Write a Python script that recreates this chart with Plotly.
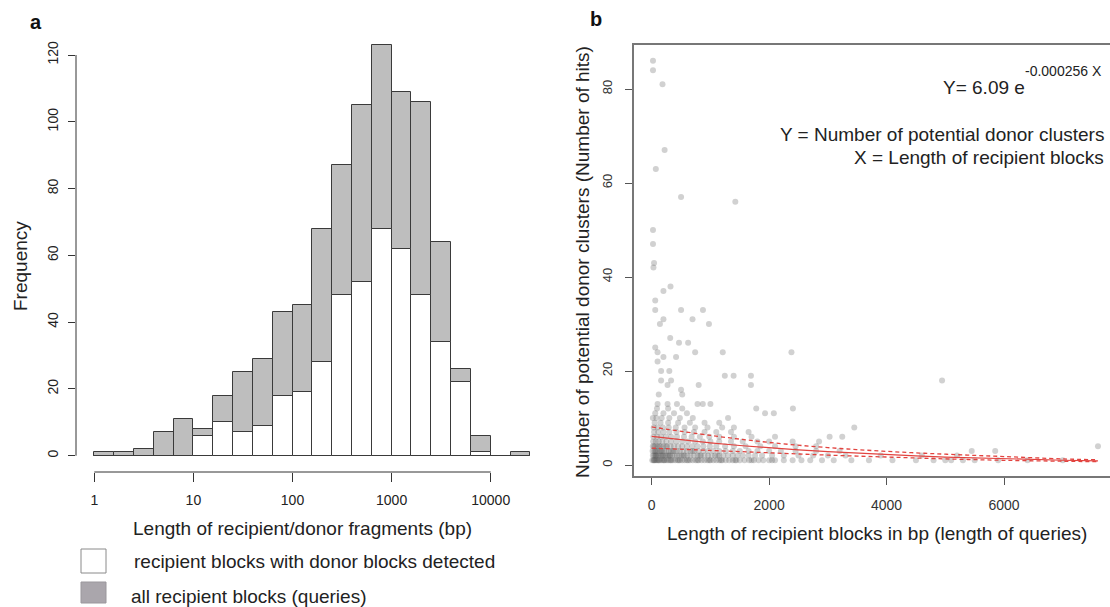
import math
import plotly.graph_objects as go

# ---------------- Panel a data (log10 bin edges, width 0.2) ----------------
bin_left_log = [0.0, 0.2, 0.4, 0.6, 0.8, 1.0, 1.2, 1.4, 1.6, 1.8, 2.0, 2.2,
                2.4, 2.6, 2.8, 3.0, 3.2, 3.4, 3.6, 3.8, 4.0, 4.2]
all_blocks = [1, 1, 2, 7, 11, 8, 18, 25, 29, 43, 45, 68,
              87, 105, 123, 109, 106, 64, 26, 6, 0, 1]
with_donor = [0, 0, 0, 0, 0, 6, 10, 7, 9, 18, 19, 28,
              48, 52, 68, 62, 48, 34, 22, 1, 0, 0]
bin_width_log = 0.2
a_xtick_vals = [0, 1, 2, 3, 4]
a_xtick_text = ["1", "10", "100", "1000", "10000"]
a_ytick_vals = [0, 20, 40, 60, 80, 100, 120]

# ---------------- Panel b data (length bp, number of hits) ----------------
row1_x = [10, 30, 50, 70, 90, 110, 140, 170, 200, 230, 260, 290, 320, 360, 400, 440,
          480, 520, 560, 600, 650, 700, 750, 800, 850, 900, 950, 1000, 1050, 1100,
          1150, 1200, 1260, 1320, 1380, 1440, 1500, 1580, 1660, 1740, 1820, 1900,
          2000, 2100, 2250, 2400, 2550, 2700, 2900, 3100, 3400, 3700, 4100, 4500,
          4800, 5000, 5100, 5300, 5500, 5900, 6400, 7000,
          40, 120, 210, 330, 460, 620, 780, 980, 1180, 1420, 1700, 2050]
row2_x = [20, 40, 60, 80, 100, 130, 160, 190, 220, 250, 280, 310, 350, 390, 430, 470,
          510, 560, 610, 660, 720, 780, 840, 900, 960, 1020, 1080, 1150, 1220, 1300,
          1380, 1460, 1550, 1650, 1760, 1880, 2050, 2250, 2500, 2750, 3000, 3300,
          3900, 4600, 5200, 70, 180, 300, 540, 820, 1120]
row3_x = [15, 45, 75, 105, 140, 175, 210, 250, 290, 330, 380, 430, 480, 540, 600, 660,
          730, 800, 880, 960, 1050, 1150, 1260, 1380, 1500, 1650, 1800, 2000, 2200,
          2450, 2800, 3200, 5450, 5850, 60, 160, 360, 700]
row4_x = [20, 60, 100, 150, 200, 260, 320, 380, 450, 520, 600, 690, 780, 880, 990,
          1100, 1250, 1400, 1600, 1850, 2100, 2450, 2800, 7600, 40, 130, 240]
row5_x = [25, 70, 120, 180, 250, 330, 420, 520, 620, 740, 870, 1000, 1150, 1350,
          1550, 1800, 2000, 2400, 2850]
row6_x = [30, 90, 160, 240, 330, 430, 550, 680, 820, 980, 1150, 1400, 1700, 2100,
          3030, 3245]
row7_x = [40, 110, 200, 300, 420, 560, 720, 900, 1100, 1350, 1650]
row8_x = [35, 100, 190, 290, 410, 560, 740, 950, 1200, 1400, 3450]
row9_x = [50, 150, 280, 450, 650, 900, 1150]
row10_x = [20, 80, 170, 300, 480, 700, 1300]
row11_x = [60, 200, 380, 600, 1930, 2080]
row12_x = [90, 280, 520, 1780, 2405]
row13_x = [100, 270, 430, 780, 870, 1000]
sparse_x = [22, 22, 184, 220, 70, 500, 1424, 22, 22, 40, 30, 200, 320, 60, 60, 500,
            695, 873, 975, 140, 200, 315, 465, 620, 60, 100, 100, 200, 415, 740, 1210,
            2380, 160, 160, 270, 330, 800, 500, 520, 1245, 1395, 1690, 1690, 4945,
            300, 120]
sparse_y = [86, 84, 81, 67, 63, 57, 56, 50, 47, 43, 42, 37, 38, 35, 33, 33,
            31, 33, 30, 30, 31, 27, 26, 26, 25, 24, 22, 23, 23, 24, 24,
            24, 20, 18, 17, 18, 17, 16, 15, 19, 19, 19, 17, 18,
            20, 15]

# fitted model shown on the chart: Y = 6.09 e^(-0.000256 X)
fit_a = 6.09
fit_b = -0.000256
fit_x = [0, 500, 1000, 1500, 2000, 2500, 3000, 3500, 4000, 4500, 5000, 5500,
         6000, 6500, 7000, 7600]
band_x = [0, 1000, 2000, 3000, 4000, 5000, 6000, 7000, 7600]
band_upper = [8.1, 6.3, 4.8, 3.7, 2.9, 2.3, 1.8, 1.3, 1.1]
band_lower = [3.6, 3.1, 2.6, 2.1, 1.7, 1.3, 1.0, 0.8, 0.7]
b_xtick_vals = [0, 2000, 4000, 6000]
b_ytick_vals = [0, 20, 40, 60, 80]

# ---------------- Figure ----------------
W, H = 1110, 607
FONT = "Liberation Sans, Arial, Helvetica, sans-serif"
BIG = 19


def px(x):
    return x / W


def py(y):
    return 1 - y / H


fig = go.Figure()

centers = [l + bin_width_log / 2 for l in bin_left_log]
fig.add_trace(go.Bar(x=centers, y=all_blocks, width=bin_width_log, base=0,
                     marker=dict(color="#bebebe", line=dict(color="#3a3a3a", width=1)),
                     xaxis="x", yaxis="y", showlegend=False, hoverinfo="skip"))
fig.add_trace(go.Bar(x=centers, y=with_donor, width=bin_width_log, base=0,
                     marker=dict(color="#ffffff", line=dict(color="#3a3a3a", width=1)),
                     xaxis="x", yaxis="y", showlegend=False, hoverinfo="skip"))

rows = [row1_x, row2_x, row3_x, row4_x, row5_x, row6_x, row7_x, row8_x, row9_x,
        row10_x, row11_x, row12_x, row13_x]
sx, sy = [], []
for i, r in enumerate(rows):
    sx += r
    sy += [i + 1] * len(r)
sx += sparse_x
sy += sparse_y
fig.add_trace(go.Scatter(x=sx, y=sy, mode="markers",
                         marker=dict(color="rgba(90,90,90,0.28)", size=6, symbol="circle",
                                     line=dict(width=0)),
                         xaxis="x2", yaxis="y2", showlegend=False, hoverinfo="skip"))

fit_y = [fit_a * math.exp(fit_b * x) for x in fit_x]
fig.add_trace(go.Scatter(x=fit_x, y=fit_y, mode="lines",
                         line=dict(color="#e2433f", width=1.2),
                         xaxis="x2", yaxis="y2", showlegend=False, hoverinfo="skip"))
for band in (band_upper, band_lower):
    fig.add_trace(go.Scatter(x=band_x, y=band, mode="lines",
                             line=dict(color="#e2433f", width=1.3, dash="4px,3px", shape="spline"),
                             xaxis="x2", yaxis="y2", showlegend=False, hoverinfo="skip"))

# Panel a axes geometry (pixels)
a_left, a_right = 76, 540
a_top, a_bot = 40, 472
a_x0, a_ppd = 94.3, 99.1
a_y0, a_ppu = 455.7, 3.339
a_xrange = [(a_left - a_x0) / a_ppd, (a_right - a_x0) / a_ppd]
a_yrange = [(a_y0 - a_bot) / a_ppu, (a_y0 - a_top) / a_ppu]

# Panel b geometry
b_left, b_right = 634, 1110
b_top, b_bot = 45, 476
b_x0, b_ppx = 651.7, 0.05872
b_y0, b_ppy = 465.0, 4.70
b_xrange = [(b_left - b_x0) / b_ppx, (b_right - b_x0) / b_ppx]
b_yrange = [(b_y0 - b_bot) / b_ppy, (b_y0 - b_top) / b_ppy]

tickfont = dict(family=FONT, size=14, color="#222")

fig.update_layout(
    width=W, height=H, margin=dict(l=0, r=0, t=0, b=0),
    paper_bgcolor="white", plot_bgcolor="white",
    barmode="overlay", bargap=0,
    font=dict(family=FONT, color="#222"),
    xaxis=dict(domain=[px(a_left), px(a_right)], range=a_xrange, anchor="y",
               tickvals=a_xtick_vals, ticktext=a_xtick_text, ticks="outside",
               ticklen=9, tickcolor="#333", tickwidth=1, showline=False,
               showgrid=False, zeroline=False, tickfont=tickfont, ticklabelstandoff=6),
    yaxis=dict(domain=[py(a_bot), py(a_top)], range=a_yrange, anchor="x",
               tickvals=a_ytick_vals, ticks="outside", ticklen=7, tickcolor="#333",
               tickwidth=1, showline=False, showgrid=False, zeroline=False,
               tickangle=-90, tickfont=tickfont, ticklabelstandoff=4),
    xaxis2=dict(domain=[px(b_left), px(b_right)], range=b_xrange, anchor="y2",
                tickvals=b_xtick_vals, ticks="outside", ticklen=7, tickcolor="#555",
                showline=True, linecolor="#777", linewidth=1.5, mirror=True,
                showgrid=False, zeroline=False, tickfont=dict(family=FONT, size=14, color="#333"),
                ticklabelstandoff=8),
    yaxis2=dict(domain=[py(b_bot), py(b_top)], range=b_yrange, anchor="x2",
                tickvals=b_ytick_vals, ticks="outside", ticklen=7, tickcolor="#555",
                showline=True, linecolor="#777", linewidth=1.5, mirror=False,
                showgrid=False, zeroline=False, tickangle=-90,
                tickfont=dict(family=FONT, size=13, color="#333"), ticklabelstandoff=8),
)

shapes = [
    dict(type="line", xref="x domain", yref="y", x0=0, x1=0, y0=0, y1=120,
         line=dict(color="#333", width=1)),
    dict(type="line", xref="x", yref="y domain", x0=0, x1=4, y0=0, y1=0,
         line=dict(color="#333", width=1)),
    dict(type="rect", xref="paper", yref="paper", x0=px(81), x1=px(106), y0=py(573), y1=py(549),
         fillcolor="white", line=dict(color="#8a8a8a", width=1)),
    dict(type="rect", xref="paper", yref="paper", x0=px(81), x1=px(106), y0=py(603), y1=py(582),
         fillcolor="#aaa6ac", line=dict(color="#9a979c", width=1)),
]
fig.update_layout(shapes=shapes)


def ann(text, x, y, size, xanchor="center", angle=0, bold=False, color="#222"):
    fig.add_annotation(text=f"<b>{text}</b>" if bold else text, x=px(x), y=py(y),
                       xref="paper", yref="paper", showarrow=False, xanchor=xanchor,
                       yanchor="middle", textangle=angle,
                       font=dict(family=FONT, size=size, color=color))


ann("a", 36, 22, 20, bold=True, color="#111")
ann("b", 596, 19, 20, bold=True, color="#111")
ann("Frequency", 20, 266, BIG, angle=-90)
ann("Length of recipient/donor fragments (bp)", 302, 528, BIG)
ann("recipient blocks with donor blocks detected", 132, 561, BIG, xanchor="left")
ann("all recipient blocks (queries)", 129, 596, BIG, xanchor="left")

ann("Number of potential donor clusters (Number of hits)", 583, 262, BIG, angle=-90)
ann("Length of recipient blocks in bp (length of queries)", 877, 533, BIG)
ann("Y= 6.09 e", 1027, 87, BIG, xanchor="right")
ann("-0.000256 X", 1104, 71, 14, xanchor="right")
ann("Y = Number of potential donor clusters", 1106, 135, BIG, xanchor="right")
ann("X = Length of recipient blocks", 1106, 157, BIG, xanchor="right")

fig.write_html("out.html")
